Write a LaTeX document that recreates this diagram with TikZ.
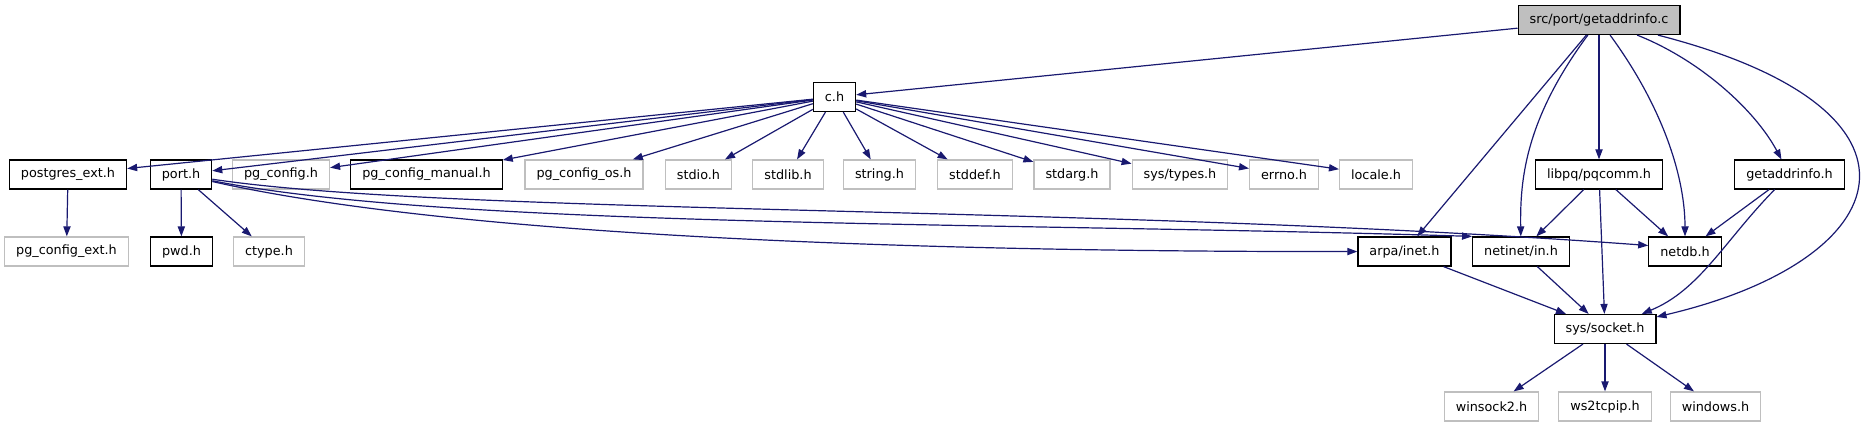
\documentclass[tikz,border=0pt]{standalone}
\usepackage{fontspec}
\setmainfont{DejaVu Sans}
\usetikzlibrary{arrows.meta}
\definecolor{edgeblue}{HTML}{191970}
\definecolor{sysgray}{HTML}{BFBFBF}

\begin{document}
\begin{tikzpicture}[
    x=0.5pt, y=-0.5pt,
    hdr/.style={rectangle, draw=#1, fill=white, line width=0.6pt, minimum height=14.5pt, inner xsep=5.75pt, inner ysep=0pt, font=\fontsize{6.4}{7.5}\selectfont},
    hdr/.default=black,
    dep/.style={-{Triangle[length=5pt, width=3.6pt]}, draw=edgeblue, line width=0.6pt}
]
    \useasboundingbox (0,0) rectangle (1868,427);

    % Fichier source
    \node[hdr, fill=sysgray] (G) at (1599, 20) {src/port/getaddrinfo.c};
    \node[hdr] (ch) at (834.5, 97) {c.h};

    % Ligne 1
    \node[hdr] (postgresext) at (68, 174.5) {postgres\_ext.h};
    \node[hdr] (port) at (181, 174.5) {port.h};
    \node[hdr] (pgmanual) at (426.5, 174.5) {pg\_config\_manual.h};
    \foreach \x/\name/\label in {281/pgconfig/pg\_config.h, 584/pgos/pg\_config\_os.h, 698.5/stdio/stdio.h, 788/stdlib/stdlib.h, 879.5/string/string.h, 975/stddef/stddef.h, 1072/stdarg/stdarg.h, 1180/systypes/{sys/types.h}, 1284/errno/errno.h, 1376/locale/locale.h} {
        \node[hdr=sysgray] (\name) at (\x, 174.5) {\label};
    }
    \node[hdr] (libpq) at (1599, 174.5) {libpq/pqcomm.h};
    \node[hdr] (gaih) at (1789.5, 174.5) {getaddrinfo.h};

    % Ligne 2
    \node[hdr=sysgray] (pgext) at (66.5, 251.5) {pg\_config\_ext.h};
    \node[hdr] (pwd) at (181.5, 251.5) {pwd.h};
    \node[hdr=sysgray] (ctype) at (269, 251.5) {ctype.h};
    \node[hdr] (arpa) at (1404.5, 251.5) {arpa/inet.h};
    \node[hdr] (netin) at (1521, 251.5) {netinet/in.h};
    \node[hdr] (netdb) at (1685, 251.5) {netdb.h};

    % Sockets
    \node[hdr] (sock) at (1605, 329) {sys/socket.h};
    \foreach \x/\name/\label in {1491.5/winsock/winsock2.h, 1605/wstcp/ws2tcpip.h, 1715.5/windows/windows.h} {
        \node[hdr=sysgray] (\name) at (\x, 406.5) {\label};
        \draw[dep] (sock) -- (\name);
    }

    % Inclusions de c.h
    \foreach \name in {postgresext, port, pgconfig, pgmanual, pgos, stdio, stdlib, string, stddef, stdarg, systypes, errno, locale} {
        \draw[dep] (ch) -- (\name);
    }

    % Inclusions de getaddrinfo.c
    \draw[dep] (G) -- (ch);
    \draw[dep] (G) -- (arpa);
    \draw[dep] (G) .. controls (1525, 120) and (1520, 180) .. (netin);
    \draw[dep] (G) -- (libpq);
    \draw[dep] (G) .. controls (1665, 110) and (1685, 180) .. (netdb);
    \draw[dep] (G) .. controls (1700, 60) and (1755, 110) .. (gaih);
    \draw[dep] (G) .. controls (1950, 110) and (1900, 260) .. (sock);

    % Autres
    \draw[dep] (postgresext) -- (pgext);
    \draw[dep] (port) -- (pwd);
    \draw[dep] (port) -- (ctype);
    \draw[dep] (port) .. controls (450, 235) and (900, 252) .. (arpa);
    \draw[dep] (port) .. controls (450, 228) and (1000, 222) .. (netin.north west);
    \draw[dep] (port) .. controls (450, 215) and (1100, 205) .. ([yshift=3pt]netdb.west);
    \draw[dep] (libpq) -- (netin);
    \draw[dep] (libpq) -- (netdb);
    \draw[dep] (libpq) -- (sock);
    \draw[dep] (gaih) -- (netdb);
    \draw[dep] (gaih) .. controls (1725, 240) and (1700, 290) .. (sock);
    \draw[dep] (arpa) -- (sock);
    \draw[dep] (netin) -- (sock);
\end{tikzpicture}
\end{document}
